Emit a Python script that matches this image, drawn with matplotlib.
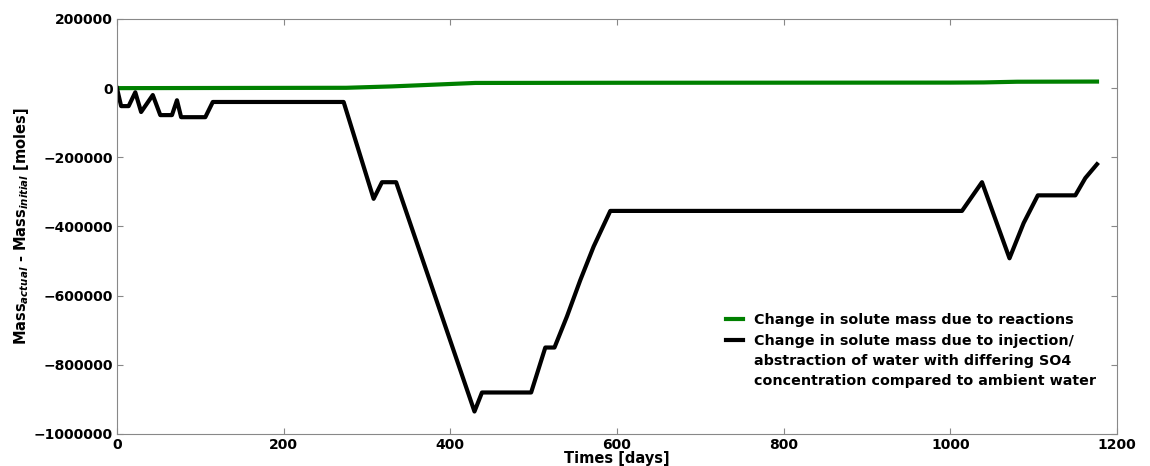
import matplotlib
matplotlib.use("Agg")
import matplotlib.pyplot as plt
from matplotlib.lines import Line2D
from matplotlib.ticker import FuncFormatter

# black series: injection/abstraction
days_inj = [0, 5, 14, 22, 29, 43, 52, 66, 72, 77, 106, 115, 272, 308, 318, 335,
            429, 438, 497, 514, 525, 540, 556, 572, 592, 1014, 1038, 1071, 1088,
            1105, 1150, 1162, 1176]
mass_inj = [0, -52000, -52000, -12000, -69000, -20000, -78000, -78000, -35000,
            -84000, -84000, -40000, -40000, -320000, -272000, -272000,
            -935000, -880000, -880000, -750000, -750000, -660000, -555000,
            -458000, -355000, -355000, -272000, -492000, -390000,
            -310000, -310000, -260000, -220000]

# green series: reactions
days_rx = [0, 275, 330, 380, 430, 600, 1000, 1040, 1080, 1176]
mass_rx = [0, 1000, 5000, 10000, 15000, 15500, 16000, 16500, 18500, 19000]

label_rx = "Change in solute mass due to reactions"
label_inj = ["Change in solute mass due to injection/",
             "abstraction of water with differing SO4",
             "concentration compared to ambient water"]

plt.rcParams["font.weight"] = "bold"
plt.rcParams["axes.labelweight"] = "bold"

fig = plt.figure(figsize=(11.5, 4.66), dpi=100)
ax = fig.add_axes([0.1017, 0.0687, 0.8696, 0.8906])

l1, = ax.plot(days_rx, mass_rx, color="#008000", lw=3)
l2, = ax.plot(days_inj, mass_inj, color="black", lw=3)

ax.set_xlim(0, 1200)
ax.set_ylim(-1000000, 200000)
ax.set_xticks(range(0, 1201, 200))
ax.set_yticks(range(-1000000, 200001, 200000))
ax.yaxis.set_major_formatter(FuncFormatter(lambda v, p: f"{int(v)}".replace("-", "\u2212")))
ax.tick_params(direction="in", top=True, right=True, labelsize=10,
               color="#888888", length=4, pad=3)
for sp in ax.spines.values():
    sp.set_color("#888888")

ax.set_xlabel("Times [days]", fontsize=10.5, labelpad=-1)
ax.set_ylabel(r"Mass$_{actual}$ - Mass$_{initial}$ [moles]", fontsize=10.5, labelpad=2)

blank = Line2D([], [], color="none")
ax.legend([l1, l2, blank, blank], [label_rx] + label_inj,
          loc="upper left", bbox_to_anchor=(0.603, 0.305), frameon=False,
          fontsize=10.3, handlelength=1.2, handletextpad=0.8,
          borderaxespad=0, labelspacing=0.45)

fig.savefig("out.png", dpi=100)
